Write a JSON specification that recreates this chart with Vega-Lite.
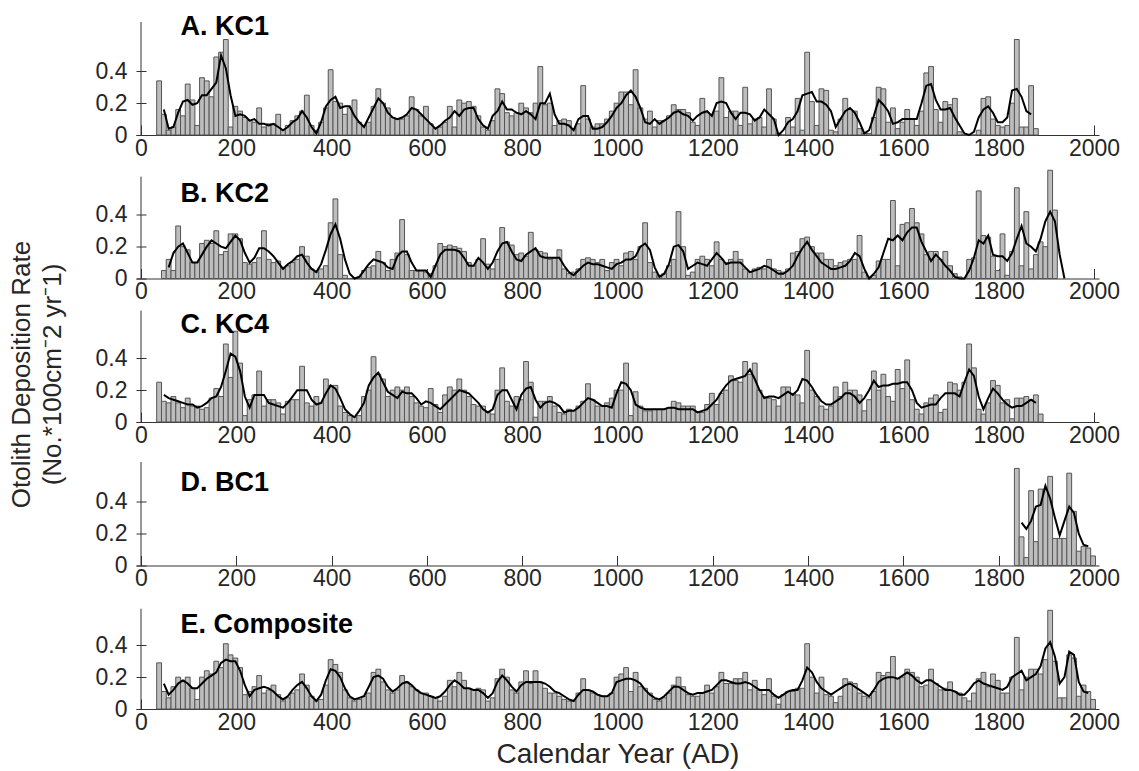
{
"$schema":"https://vega.github.io/schema/vega-lite/v6.json",
"background":"white",
"padding":{"left":8,"top":12,"right":5,"bottom":5},
"spacing":30.5,
"bounds":"flush",
"config":{
"view":{"stroke":null},
"font":"Liberation Sans",
"axis":{"grid":false,"domainColor":"#333333","tickColor":"#333333","tickSize":-10,"labelFont":"Liberation Sans","labelFontSize":23,"labelColor":"#262626","labelFlush":false,"labelOverlap":false,"titleFont":"Liberation Sans","titleFontWeight":"normal","titleColor":"#262626"},
"axisX":{"labelPadding":12},
"axisY":{"labelPadding":19,"domain":false}
},
"datasets":{
"A":[{"t":38,"v":0.34},{"t":48,"v":0.13,"s":0.16},{"t":58,"v":0.03,"s":0.04},{"t":68,"v":0.05,"s":0.05},{"t":78,"v":0.16,"s":0.14},{"t":88,"v":0.12,"s":0.21},{"t":98,"v":0.32,"s":0.22},{"t":108,"v":0.22,"s":0.19},{"t":118,"v":0.06,"s":0.2},{"t":128,"v":0.36,"s":0.25},{"t":138,"v":0.34,"s":0.25},{"t":148,"v":0.24,"s":0.29},{"t":158,"v":0.49,"s":0.33},{"t":168,"v":0.52,"s":0.5},{"t":178,"v":0.6,"s":0.42},{"t":188,"v":0.05,"s":0.25},{"t":198,"v":0.18,"s":0.12},{"t":208,"v":0.15,"s":0.13},{"t":218,"v":0.11,"s":0.12},{"t":228,"v":0.09,"s":0.09},{"t":238,"v":0.08,"s":0.1},{"t":248,"v":0.17,"s":0.07},{"t":258,"v":0.05,"s":0.07},{"t":268,"v":0.07,"s":0.06},{"t":278,"v":0.07,"s":0.07},{"t":288,"v":0.13,"s":0.05},{"t":298,"v":0.03,"s":0.03},{"t":308,"v":0.06,"s":0.05},{"t":318,"v":0.09,"s":0.08},{"t":328,"v":0.12,"s":0.1},{"t":338,"v":0.15,"s":0.15},{"t":348,"v":0.25,"s":0.11},{"t":358,"v":0.06,"s":0.05},{"t":368,"v":0.03,"s":0.01},{"t":378,"v":0.08,"s":0.08},{"t":388,"v":0.17,"s":0.18},{"t":398,"v":0.41,"s":0.22},{"t":408,"v":0.21,"s":0.24},{"t":418,"v":0.2,"s":0.17},{"t":428,"v":0.13,"s":0.18},{"t":438,"v":0.17,"s":0.18},{"t":448,"v":0.22,"s":0.12},{"t":458,"v":0.08,"s":0.08},{"t":468,"v":0.06,"s":0.05},{"t":478,"v":0.08,"s":0.11},{"t":488,"v":0.18,"s":0.17},{"t":498,"v":0.29,"s":0.23},{"t":508,"v":0.2,"s":0.2},{"t":518,"v":0.17,"s":0.14},{"t":528,"v":0.11,"s":0.11},{"t":538,"v":0.1,"s":0.1},{"t":548,"v":0.1,"s":0.11},{"t":558,"v":0.12,"s":0.13},{"t":568,"v":0.24,"s":0.17},{"t":578,"v":0.16,"s":0.16},{"t":588,"v":0.12,"s":0.13},{"t":598,"v":0.18,"s":0.1},{"t":608,"v":0.07,"s":0.07},{"t":618,"v":0.04,"s":0.04},{"t":628,"v":0.05,"s":0.06},{"t":638,"v":0.08,"s":0.09},{"t":648,"v":0.18,"s":0.11},{"t":658,"v":0.05,"s":0.15},{"t":668,"v":0.22,"s":0.12},{"t":678,"v":0.2,"s":0.16},{"t":688,"v":0.21,"s":0.17},{"t":698,"v":0.18,"s":0.17},{"t":708,"v":0.12,"s":0.1},{"t":718,"v":0.05,"s":0.06},{"t":728,"v":0.03,"s":0.04},{"t":738,"v":0.09,"s":0.12},{"t":748,"v":0.29,"s":0.15},{"t":758,"v":0.26,"s":0.21},{"t":768,"v":0.14,"s":0.16},{"t":778,"v":0.12,"s":0.16},{"t":788,"v":0.14,"s":0.14},{"t":798,"v":0.2,"s":0.13},{"t":808,"v":0.17,"s":0.15},{"t":818,"v":0.14,"s":0.13},{"t":828,"v":0.2,"s":0.1},{"t":838,"v":0.43,"s":0.2},{"t":848,"v":0.19,"s":0.2},{"t":858,"v":0.2,"s":0.26},{"t":868,"v":0.06,"s":0.13},{"t":878,"v":0.09,"s":0.07},{"t":888,"v":0.1,"s":0.07},{"t":898,"v":0.09,"s":0.06},{"t":908,"v":0.04,"s":0.03},{"t":918,"v":0.07,"s":0.1},{"t":928,"v":0.31,"s":0.12},{"t":938,"v":0.1,"s":0.12},{"t":948,"v":0.05,"s":0.04},{"t":958,"v":0.07,"s":0.04},{"t":968,"v":0.07,"s":0.05},{"t":978,"v":0.1,"s":0.08},{"t":988,"v":0.15,"s":0.12},{"t":998,"v":0.2,"s":0.17},{"t":1008,"v":0.27,"s":0.2},{"t":1018,"v":0.27,"s":0.25},{"t":1028,"v":0.19,"s":0.28},{"t":1038,"v":0.41,"s":0.24},{"t":1048,"v":0.17,"s":0.17},{"t":1058,"v":0.1,"s":0.08},{"t":1068,"v":0.15,"s":0.07},{"t":1078,"v":0.05,"s":0.1},{"t":1088,"v":0.09,"s":0.07},{"t":1098,"v":0.09,"s":0.09},{"t":1108,"v":0.12,"s":0.11},{"t":1118,"v":0.19,"s":0.14},{"t":1128,"v":0.16,"s":0.15},{"t":1138,"v":0.16,"s":0.13},{"t":1148,"v":0.14,"s":0.12},{"t":1158,"v":0.08,"s":0.09},{"t":1168,"v":0.06,"s":0.12},{"t":1178,"v":0.23,"s":0.14},{"t":1188,"v":0.14,"s":0.15},{"t":1198,"v":0.13,"s":0.12},{"t":1208,"v":0.15,"s":0.2},{"t":1218,"v":0.36,"s":0.21},{"t":1228,"v":0.11,"s":0.2},{"t":1238,"v":0.15,"s":0.14},{"t":1248,"v":0.15,"s":0.1},{"t":1258,"v":0.06,"s":0.14},{"t":1268,"v":0.3,"s":0.14},{"t":1278,"v":0.07,"s":0.13},{"t":1288,"v":0.1,"s":0.09},{"t":1298,"v":0.11,"s":0.11},{"t":1308,"v":0.05,"s":0.16},{"t":1318,"v":0.29,"s":0.13},{"t":1328,"v":0.1,"s":0.1},{"t":1338,"v":0.01,"s":0},{"t":1348,"v":0,"s":0.03},{"t":1358,"v":0.11,"s":0.08},{"t":1368,"v":0.05,"s":0.1},{"t":1378,"v":0.23,"s":0.15},{"t":1388,"v":0.03,"s":0.25},{"t":1398,"v":0.52,"s":0.26},{"t":1408,"v":0.21,"s":0.27},{"t":1418,"v":0.06,"s":0.21},{"t":1428,"v":0.29,"s":0.21},{"t":1438,"v":0.28,"s":0.19},{"t":1448,"v":0.03,"s":0.15},{"t":1458,"v":0.02,"s":0.05},{"t":1468,"v":0.1,"s":0.1},{"t":1478,"v":0.23,"s":0.15},{"t":1488,"v":0.16,"s":0.17},{"t":1498,"v":0.15,"s":0.14},{"t":1508,"v":0.04,"s":0.08},{"t":1518,"v":0.01,"s":0.01},{"t":1528,"v":0.01,"s":0.03},{"t":1538,"v":0.11,"s":0.12},{"t":1548,"v":0.3,"s":0.22},{"t":1558,"v":0.29,"s":0.19},{"t":1568,"v":0.08,"s":0.15},{"t":1578,"v":0.17,"s":0.07},{"t":1588,"v":0.04,"s":0.08},{"t":1598,"v":0.08,"s":0.1},{"t":1608,"v":0.16,"s":0.1},{"t":1618,"v":0.1,"s":0.1},{"t":1628,"v":0.06,"s":0.1},{"t":1638,"v":0.15,"s":0.2},{"t":1648,"v":0.39,"s":0.31},{"t":1658,"v":0.43,"s":0.32},{"t":1668,"v":0.16,"s":0.22},{"t":1678,"v":0.08,"s":0.16},{"t":1688,"v":0.21,"s":0.16},{"t":1698,"v":0.19,"s":0.17},{"t":1708,"v":0.23,"s":0.11},{"t":1718,"v":0.02,"s":0.06},{"t":1728,"v":0,"s":0.01},{"t":1738,"v":0,"s":0},{"t":1748,"v":0,"s":0.02},{"t":1758,"v":0.03,"s":0.11},{"t":1768,"v":0.23,"s":0.16},{"t":1778,"v":0.24,"s":0.18},{"t":1788,"v":0.1,"s":0.14},{"t":1798,"v":0.06,"s":0.08},{"t":1808,"v":0.05,"s":0.08},{"t":1818,"v":0.06,"s":0.11},{"t":1828,"v":0.2,"s":0.28},{"t":1838,"v":0.6,"s":0.29},{"t":1848,"v":0.05,"s":0.24},{"t":1858,"v":0.05,"s":0.15},{"t":1868,"v":0.31,"s":0.13},{"t":1878,"v":0.04}],
"B":[{"t":48,"v":0.05},{"t":58,"v":0.12,"s":0.07},{"t":68,"v":0.05,"s":0.16},{"t":78,"v":0.33,"s":0.2},{"t":88,"v":0.2,"s":0.22},{"t":98,"v":0.18,"s":0.16},{"t":108,"v":0.1,"s":0.1},{"t":118,"v":0.1,"s":0.1},{"t":128,"v":0.22,"s":0.15},{"t":138,"v":0.24,"s":0.2},{"t":148,"v":0.22,"s":0.24},{"t":158,"v":0.3,"s":0.22},{"t":168,"v":0.15,"s":0.2},{"t":178,"v":0.17,"s":0.19},{"t":188,"v":0.28,"s":0.23},{"t":198,"v":0.28,"s":0.27},{"t":208,"v":0.25,"s":0.24},{"t":218,"v":0.1,"s":0.16},{"t":228,"v":0.09,"s":0.1},{"t":238,"v":0.1,"s":0.13},{"t":248,"v":0.13,"s":0.19},{"t":258,"v":0.3,"s":0.19},{"t":268,"v":0.12,"s":0.17},{"t":278,"v":0.1,"s":0.14},{"t":288,"v":0.11,"s":0.1},{"t":298,"v":0.07,"s":0.06},{"t":308,"v":0.08,"s":0.09},{"t":318,"v":0.1,"s":0.11},{"t":328,"v":0.12,"s":0.14},{"t":338,"v":0.2,"s":0.15},{"t":348,"v":0.14,"s":0.1},{"t":358,"v":0.06,"s":0.06},{"t":368,"v":0.04,"s":0.04},{"t":378,"v":0.06,"s":0.09},{"t":388,"v":0.08,"s":0.18},{"t":398,"v":0.35,"s":0.28},{"t":408,"v":0.5,"s":0.34},{"t":418,"v":0.15,"s":0.25},{"t":428,"v":0.02,"s":0.12},{"t":438,"v":0,"s":0.03},{"t":448,"v":0,"s":0},{"t":458,"v":0.01,"s":0.01},{"t":468,"v":0.05,"s":0.05},{"t":478,"v":0.07,"s":0.09},{"t":488,"v":0.08,"s":0.12},{"t":498,"v":0.17,"s":0.11},{"t":508,"v":0.1,"s":0.1},{"t":518,"v":0.05,"s":0.07},{"t":528,"v":0.12,"s":0.06},{"t":538,"v":0.16,"s":0.14},{"t":548,"v":0.37,"s":0.17},{"t":558,"v":0.15,"s":0.17},{"t":568,"v":0.05,"s":0.1},{"t":578,"v":0.05,"s":0.05},{"t":588,"v":0.05,"s":0.05},{"t":598,"v":0.04,"s":0.05},{"t":608,"v":0.03,"s":0.01},{"t":618,"v":0.08,"s":0.08},{"t":628,"v":0.22,"s":0.15},{"t":638,"v":0.2,"s":0.18},{"t":648,"v":0.21,"s":0.18},{"t":658,"v":0.2,"s":0.18},{"t":668,"v":0.19,"s":0.17},{"t":678,"v":0.17,"s":0.13},{"t":688,"v":0.1,"s":0.08},{"t":698,"v":0.08,"s":0.08},{"t":708,"v":0.12,"s":0.13},{"t":718,"v":0.25,"s":0.1},{"t":728,"v":0.09,"s":0.06},{"t":738,"v":0.06,"s":0.1},{"t":748,"v":0.12,"s":0.17},{"t":758,"v":0.32,"s":0.22},{"t":768,"v":0.23,"s":0.23},{"t":778,"v":0.21,"s":0.17},{"t":788,"v":0.15,"s":0.12},{"t":798,"v":0.16,"s":0.11},{"t":808,"v":0.14,"s":0.15},{"t":818,"v":0.29,"s":0.17},{"t":828,"v":0.18,"s":0.19},{"t":838,"v":0.17,"s":0.14},{"t":848,"v":0.16,"s":0.13},{"t":858,"v":0.12,"s":0.13},{"t":868,"v":0.13,"s":0.13},{"t":878,"v":0.18,"s":0.13},{"t":888,"v":0.06,"s":0.08},{"t":898,"v":0.03,"s":0.04},{"t":908,"v":0.04,"s":0.02},{"t":918,"v":0.06,"s":0.05},{"t":928,"v":0.12,"s":0.08},{"t":938,"v":0.13,"s":0.1},{"t":948,"v":0.12,"s":0.09},{"t":958,"v":0.1,"s":0.09},{"t":968,"v":0.12,"s":0.08},{"t":978,"v":0.05,"s":0.07},{"t":988,"v":0.1,"s":0.06},{"t":998,"v":0.12,"s":0.09},{"t":1008,"v":0.08,"s":0.1},{"t":1018,"v":0.16,"s":0.12},{"t":1028,"v":0.17,"s":0.12},{"t":1038,"v":0.12,"s":0.14},{"t":1048,"v":0.2,"s":0.2},{"t":1058,"v":0.35,"s":0.22},{"t":1068,"v":0.1,"s":0.18},{"t":1078,"v":0.04,"s":0.07},{"t":1088,"v":0.02,"s":0.01},{"t":1098,"v":0.03,"s":0.03},{"t":1108,"v":0.08,"s":0.09},{"t":1118,"v":0.12,"s":0.2},{"t":1128,"v":0.42,"s":0.21},{"t":1138,"v":0.2,"s":0.17},{"t":1148,"v":0.02,"s":0.06},{"t":1158,"v":0.04,"s":0.08},{"t":1168,"v":0.12,"s":0.1},{"t":1178,"v":0.14,"s":0.09},{"t":1188,"v":0.12,"s":0.08},{"t":1198,"v":0.08,"s":0.12},{"t":1208,"v":0.23,"s":0.16},{"t":1218,"v":0.12,"s":0.13},{"t":1228,"v":0.1,"s":0.09},{"t":1238,"v":0.12,"s":0.1},{"t":1248,"v":0.17,"s":0.1},{"t":1258,"v":0.12,"s":0.1},{"t":1268,"v":0.06,"s":0.07},{"t":1278,"v":0.04,"s":0.04},{"t":1288,"v":0.06,"s":0.05},{"t":1298,"v":0.07,"s":0.06},{"t":1308,"v":0.06,"s":0.08},{"t":1318,"v":0.12,"s":0.07},{"t":1328,"v":0.06,"s":0.05},{"t":1338,"v":0.05,"s":0.03},{"t":1348,"v":0.04,"s":0.03},{"t":1358,"v":0.06,"s":0.05},{"t":1368,"v":0.16,"s":0.08},{"t":1378,"v":0.17,"s":0.14},{"t":1388,"v":0.25,"s":0.19},{"t":1398,"v":0.26,"s":0.23},{"t":1408,"v":0.2,"s":0.18},{"t":1418,"v":0.16,"s":0.14},{"t":1428,"v":0.16,"s":0.1},{"t":1438,"v":0.12,"s":0.08},{"t":1448,"v":0.12,"s":0.06},{"t":1458,"v":0.08,"s":0.06},{"t":1468,"v":0.1,"s":0.07},{"t":1478,"v":0.11,"s":0.08},{"t":1488,"v":0.12,"s":0.11},{"t":1498,"v":0.12,"s":0.16},{"t":1508,"v":0.27,"s":0.14},{"t":1518,"v":0.04,"s":0.06},{"t":1528,"v":0,"s":0},{"t":1538,"v":0.02,"s":0.03},{"t":1548,"v":0.11,"s":0.07},{"t":1558,"v":0.12,"s":0.16},{"t":1568,"v":0.12,"s":0.25},{"t":1578,"v":0.49,"s":0.24},{"t":1588,"v":0.08,"s":0.27},{"t":1598,"v":0.34,"s":0.24},{"t":1608,"v":0.35,"s":0.29},{"t":1618,"v":0.44,"s":0.32},{"t":1628,"v":0.35,"s":0.32},{"t":1638,"v":0.28,"s":0.23},{"t":1648,"v":0.15,"s":0.17},{"t":1658,"v":0.17,"s":0.11},{"t":1668,"v":0.17,"s":0.15},{"t":1678,"v":0.12,"s":0.12},{"t":1688,"v":0.17,"s":0.08},{"t":1698,"v":0.08,"s":0.05},{"t":1708,"v":0.03,"s":0.01},{"t":1718,"v":0.01,"s":0},{"t":1728,"v":0,"s":0},{"t":1738,"v":0.12,"s":0.05},{"t":1748,"v":0.13,"s":0.13},{"t":1758,"v":0.55,"s":0.24},{"t":1768,"v":0.27,"s":0.22},{"t":1778,"v":0.26,"s":0.27},{"t":1788,"v":0.14,"s":0.15},{"t":1798,"v":0.05,"s":0.14},{"t":1808,"v":0.28,"s":0.14},{"t":1818,"v":0.02,"s":0.11},{"t":1828,"v":0.17,"s":0.16},{"t":1838,"v":0.57,"s":0.25},{"t":1848,"v":0.08,"s":0.33},{"t":1858,"v":0.42,"s":0.22},{"t":1868,"v":0.06,"s":0.2},{"t":1878,"v":0.15,"s":0.17},{"t":1888,"v":0.23,"s":0.25},{"t":1898,"v":0.2,"s":0.36},{"t":1908,"v":0.68,"s":0.42},{"t":1918,"v":0.43,"s":0.36},{"t":1928,"s":0.15},{"t":1938,"s":0}],
"C":[{"t":38,"v":0.25},{"t":48,"v":0.13,"s":0.17},{"t":58,"v":0.12,"s":0.15},{"t":68,"v":0.16,"s":0.14},{"t":78,"v":0.12,"s":0.13},{"t":88,"v":0.09,"s":0.12},{"t":98,"v":0.15,"s":0.11},{"t":108,"v":0.1,"s":0.11},{"t":118,"v":0.1,"s":0.09},{"t":128,"v":0.08,"s":0.1},{"t":138,"v":0.09,"s":0.12},{"t":148,"v":0.15,"s":0.15},{"t":158,"v":0.21,"s":0.16},{"t":168,"v":0.16,"s":0.22},{"t":178,"v":0.49,"s":0.32},{"t":188,"v":0.28,"s":0.43},{"t":198,"v":0.57,"s":0.41},{"t":208,"v":0.37,"s":0.32},{"t":218,"v":0.04,"s":0.16},{"t":228,"v":0.14,"s":0.09},{"t":238,"v":0.17,"s":0.17},{"t":248,"v":0.32,"s":0.17},{"t":258,"v":0.1,"s":0.17},{"t":268,"v":0.14,"s":0.12},{"t":278,"v":0.14,"s":0.11},{"t":288,"v":0.12,"s":0.1},{"t":298,"v":0.05,"s":0.09},{"t":308,"v":0.13,"s":0.12},{"t":318,"v":0.14,"s":0.16},{"t":328,"v":0.14,"s":0.2},{"t":338,"v":0.35,"s":0.2},{"t":348,"v":0.12,"s":0.2},{"t":358,"v":0.1,"s":0.14},{"t":368,"v":0.16,"s":0.11},{"t":378,"v":0.12,"s":0.12},{"t":388,"v":0.27,"s":0.18},{"t":398,"v":0.23,"s":0.23},{"t":408,"v":0.23,"s":0.21},{"t":418,"v":0.1,"s":0.15},{"t":428,"v":0.06,"s":0.08},{"t":438,"v":0.04,"s":0.05},{"t":448,"v":0.03,"s":0.03},{"t":458,"v":0.04,"s":0.07},{"t":468,"v":0.16,"s":0.12},{"t":478,"v":0.2,"s":0.23},{"t":488,"v":0.41,"s":0.28},{"t":498,"v":0.3,"s":0.31},{"t":508,"v":0.27,"s":0.25},{"t":518,"v":0.16,"s":0.19},{"t":528,"v":0.2,"s":0.17},{"t":538,"v":0.22,"s":0.15},{"t":548,"v":0.2,"s":0.19},{"t":558,"v":0.22,"s":0.18},{"t":568,"v":0.16,"s":0.18},{"t":578,"v":0.12,"s":0.15},{"t":588,"v":0.1,"s":0.11},{"t":598,"v":0.09,"s":0.13},{"t":608,"v":0.21,"s":0.12},{"t":618,"v":0.11,"s":0.1},{"t":628,"v":0.06,"s":0.08},{"t":638,"v":0.17,"s":0.11},{"t":648,"v":0.22,"s":0.14},{"t":658,"v":0.2,"s":0.17},{"t":668,"v":0.27,"s":0.2},{"t":678,"v":0.2,"s":0.19},{"t":688,"v":0.16,"s":0.18},{"t":698,"v":0.11,"s":0.15},{"t":708,"v":0.1,"s":0.12},{"t":718,"v":0.1,"s":0.08},{"t":728,"v":0.06,"s":0.06},{"t":738,"v":0.05,"s":0.08},{"t":748,"v":0.2,"s":0.17},{"t":758,"v":0.34,"s":0.2},{"t":768,"v":0.13,"s":0.2},{"t":778,"v":0.1,"s":0.14},{"t":788,"v":0.16,"s":0.08},{"t":798,"v":0.14,"s":0.17},{"t":808,"v":0.38,"s":0.21},{"t":818,"v":0.25,"s":0.22},{"t":828,"v":0.03,"s":0.14},{"t":838,"v":0.13,"s":0.09},{"t":848,"v":0.13,"s":0.12},{"t":858,"v":0.16,"s":0.13},{"t":868,"v":0.1,"s":0.12},{"t":878,"v":0.06,"s":0.1},{"t":888,"v":0.05,"s":0.06},{"t":898,"v":0.08,"s":0.07},{"t":908,"v":0.07,"s":0.07},{"t":918,"v":0.1,"s":0.09},{"t":928,"v":0.13,"s":0.12},{"t":938,"v":0.24,"s":0.15},{"t":948,"v":0.14,"s":0.14},{"t":958,"v":0.1,"s":0.12},{"t":968,"v":0.1,"s":0.1},{"t":978,"v":0.12,"s":0.1},{"t":988,"v":0.15,"s":0.09},{"t":998,"v":0.2,"s":0.18},{"t":1008,"v":0.2,"s":0.25},{"t":1018,"v":0.37,"s":0.24},{"t":1028,"v":0.04,"s":0.2},{"t":1038,"v":0.19,"s":0.11},{"t":1048,"v":0.1,"s":0.09},{"t":1058,"v":0.07,"s":0.08},{"t":1068,"v":0.07,"s":0.08},{"t":1078,"v":0.08,"s":0.08},{"t":1088,"v":0.08,"s":0.08},{"t":1098,"v":0.08,"s":0.08},{"t":1108,"v":0.09,"s":0.09},{"t":1118,"v":0.13,"s":0.09},{"t":1128,"v":0.12,"s":0.08},{"t":1138,"v":0.1,"s":0.08},{"t":1148,"v":0.1,"s":0.08},{"t":1158,"v":0.1,"s":0.08},{"t":1168,"v":0.06,"s":0.06},{"t":1178,"v":0.06,"s":0.07},{"t":1188,"v":0.11,"s":0.08},{"t":1198,"v":0.18,"s":0.11},{"t":1208,"v":0.11,"s":0.14},{"t":1218,"v":0.18,"s":0.19},{"t":1228,"v":0.2,"s":0.23},{"t":1238,"v":0.29,"s":0.26},{"t":1248,"v":0.26,"s":0.27},{"t":1258,"v":0.25,"s":0.28},{"t":1268,"v":0.38,"s":0.29},{"t":1278,"v":0.3,"s":0.33},{"t":1288,"v":0.37,"s":0.27},{"t":1298,"v":0.2,"s":0.2},{"t":1308,"v":0.16,"s":0.15},{"t":1318,"v":0.15,"s":0.16},{"t":1328,"v":0.14,"s":0.16},{"t":1338,"v":0.1,"s":0.15},{"t":1348,"v":0.22,"s":0.17},{"t":1358,"v":0.22,"s":0.19},{"t":1368,"v":0.18,"s":0.17},{"t":1378,"v":0.17,"s":0.2},{"t":1388,"v":0.12,"s":0.27},{"t":1398,"v":0.45,"s":0.26},{"t":1408,"v":0.2,"s":0.22},{"t":1418,"v":0.16,"s":0.17},{"t":1428,"v":0.1,"s":0.13},{"t":1438,"v":0.08,"s":0.11},{"t":1448,"v":0.1,"s":0.11},{"t":1458,"v":0.22,"s":0.13},{"t":1468,"v":0.16,"s":0.15},{"t":1478,"v":0.25,"s":0.18},{"t":1488,"v":0.2,"s":0.18},{"t":1498,"v":0.2,"s":0.16},{"t":1508,"v":0.17,"s":0.12},{"t":1518,"v":0.07,"s":0.15},{"t":1528,"v":0.14,"s":0.2},{"t":1538,"v":0.32,"s":0.26},{"t":1548,"v":0.2,"s":0.22},{"t":1558,"v":0.3,"s":0.23},{"t":1568,"v":0.16,"s":0.23},{"t":1578,"v":0.13,"s":0.24},{"t":1588,"v":0.33,"s":0.24},{"t":1598,"v":0.21,"s":0.25},{"t":1608,"v":0.39,"s":0.25},{"t":1618,"v":0.14,"s":0.2},{"t":1628,"v":0.08,"s":0.12},{"t":1638,"v":0.05,"s":0.09},{"t":1648,"v":0.12,"s":0.1},{"t":1658,"v":0.15,"s":0.11},{"t":1668,"v":0.17,"s":0.11},{"t":1678,"v":0.06,"s":0.15},{"t":1688,"v":0.08,"s":0.18},{"t":1698,"v":0.25,"s":0.18},{"t":1708,"v":0.24,"s":0.18},{"t":1718,"v":0.2,"s":0.16},{"t":1728,"v":0.25,"s":0.25},{"t":1738,"v":0.49,"s":0.33},{"t":1748,"v":0.34,"s":0.29},{"t":1758,"v":0.08,"s":0.16},{"t":1768,"v":0.05,"s":0.08},{"t":1778,"v":0.12,"s":0.15},{"t":1788,"v":0.26,"s":0.21},{"t":1798,"v":0.23,"s":0.18},{"t":1808,"v":0.12,"s":0.14},{"t":1818,"v":0.14,"s":0.11},{"t":1828,"v":0.02,"s":0.09},{"t":1838,"v":0.15,"s":0.1},{"t":1848,"v":0.15,"s":0.1},{"t":1858,"v":0.16,"s":0.12},{"t":1868,"v":0.14,"s":0.14},{"t":1878,"v":0.17,"s":0.12},{"t":1888,"v":0.05}],
"D":[{"t":1838,"v":0.61},{"t":1848,"v":0.18,"s":0.27},{"t":1858,"v":0.05,"s":0.23},{"t":1868,"v":0.47,"s":0.28},{"t":1878,"v":0.15,"s":0.37},{"t":1888,"v":0.48,"s":0.38},{"t":1898,"v":0.48,"s":0.5},{"t":1908,"v":0.56,"s":0.42},{"t":1918,"v":0.17,"s":0.3},{"t":1928,"v":0.17,"s":0.19},{"t":1938,"v":0.17,"s":0.28},{"t":1948,"v":0.58,"s":0.37},{"t":1958,"v":0.34,"s":0.33},{"t":1968,"v":0.09,"s":0.2},{"t":1978,"v":0.12,"s":0.13},{"t":1988,"v":0.11,"s":0.12},{"t":1998,"v":0.06}],
"E":[{"t":38,"v":0.29},{"t":48,"v":0.11,"s":0.16},{"t":58,"v":0.07,"s":0.09},{"t":68,"v":0.14,"s":0.12},{"t":78,"v":0.2,"s":0.16},{"t":88,"v":0.18,"s":0.18},{"t":98,"v":0.2,"s":0.16},{"t":108,"v":0.13,"s":0.13},{"t":118,"v":0.06,"s":0.13},{"t":128,"v":0.2,"s":0.16},{"t":138,"v":0.24,"s":0.19},{"t":148,"v":0.22,"s":0.21},{"t":158,"v":0.3,"s":0.23},{"t":168,"v":0.26,"s":0.29},{"t":178,"v":0.41,"s":0.31},{"t":188,"v":0.34,"s":0.3},{"t":198,"v":0.32,"s":0.3},{"t":208,"v":0.26,"s":0.24},{"t":218,"v":0.09,"s":0.15},{"t":228,"v":0.11,"s":0.08},{"t":238,"v":0.14,"s":0.12},{"t":248,"v":0.21,"s":0.13},{"t":258,"v":0.1,"s":0.14},{"t":268,"v":0.12,"s":0.13},{"t":278,"v":0.15,"s":0.11},{"t":288,"v":0.09,"s":0.08},{"t":298,"v":0.05,"s":0.06},{"t":308,"v":0.07,"s":0.08},{"t":318,"v":0.1,"s":0.12},{"t":328,"v":0.12,"s":0.15},{"t":338,"v":0.22,"s":0.17},{"t":348,"v":0.15,"s":0.13},{"t":358,"v":0.08,"s":0.08},{"t":368,"v":0.05,"s":0.05},{"t":378,"v":0.06,"s":0.09},{"t":388,"v":0.15,"s":0.18},{"t":398,"v":0.31,"s":0.25},{"t":408,"v":0.28,"s":0.24},{"t":418,"v":0.23,"s":0.2},{"t":428,"v":0.12,"s":0.13},{"t":438,"v":0.07,"s":0.08},{"t":448,"v":0.05,"s":0.06},{"t":458,"v":0.06,"s":0.07},{"t":468,"v":0.08,"s":0.08},{"t":478,"v":0.1,"s":0.14},{"t":488,"v":0.23,"s":0.2},{"t":498,"v":0.25,"s":0.21},{"t":508,"v":0.17,"s":0.19},{"t":518,"v":0.12,"s":0.14},{"t":528,"v":0.1,"s":0.11},{"t":538,"v":0.12,"s":0.13},{"t":548,"v":0.21,"s":0.16},{"t":558,"v":0.17,"s":0.17},{"t":568,"v":0.14,"s":0.15},{"t":578,"v":0.12,"s":0.12},{"t":588,"v":0.1,"s":0.1},{"t":598,"v":0.1,"s":0.09},{"t":608,"v":0.08,"s":0.08},{"t":618,"v":0.07,"s":0.07},{"t":628,"v":0.05,"s":0.08},{"t":638,"v":0.08,"s":0.11},{"t":648,"v":0.18,"s":0.15},{"t":658,"v":0.14,"s":0.18},{"t":668,"v":0.23,"s":0.16},{"t":678,"v":0.18,"s":0.13},{"t":688,"v":0.13,"s":0.13},{"t":698,"v":0.12,"s":0.12},{"t":708,"v":0.13,"s":0.12},{"t":718,"v":0.12,"s":0.1},{"t":728,"v":0.05,"s":0.07},{"t":738,"v":0.07,"s":0.1},{"t":748,"v":0.19,"s":0.17},{"t":758,"v":0.25,"s":0.21},{"t":768,"v":0.2,"s":0.18},{"t":778,"v":0.12,"s":0.14},{"t":788,"v":0.1,"s":0.11},{"t":798,"v":0.17,"s":0.15},{"t":808,"v":0.24,"s":0.17},{"t":818,"v":0.16,"s":0.17},{"t":828,"v":0.24,"s":0.17},{"t":838,"v":0.17,"s":0.17},{"t":848,"v":0.13,"s":0.16},{"t":858,"v":0.1,"s":0.14},{"t":868,"v":0.1,"s":0.11},{"t":878,"v":0.08,"s":0.1},{"t":888,"v":0.06,"s":0.08},{"t":898,"v":0.05,"s":0.06},{"t":908,"v":0.05,"s":0.05},{"t":918,"v":0.1,"s":0.09},{"t":928,"v":0.19,"s":0.12},{"t":938,"v":0.12,"s":0.12},{"t":948,"v":0.1,"s":0.11},{"t":958,"v":0.09,"s":0.09},{"t":968,"v":0.08,"s":0.08},{"t":978,"v":0.08,"s":0.08},{"t":988,"v":0.1,"s":0.1},{"t":998,"v":0.2,"s":0.17},{"t":1008,"v":0.22,"s":0.18},{"t":1018,"v":0.26,"s":0.19},{"t":1028,"v":0.11,"s":0.19},{"t":1038,"v":0.23,"s":0.18},{"t":1048,"v":0.14,"s":0.16},{"t":1058,"v":0.13,"s":0.12},{"t":1068,"v":0.1,"s":0.09},{"t":1078,"v":0.06,"s":0.07},{"t":1088,"v":0.05,"s":0.06},{"t":1098,"v":0.07,"s":0.08},{"t":1108,"v":0.1,"s":0.11},{"t":1118,"v":0.15,"s":0.14},{"t":1128,"v":0.2,"s":0.14},{"t":1138,"v":0.14,"s":0.12},{"t":1148,"v":0.09,"s":0.1},{"t":1158,"v":0.08,"s":0.09},{"t":1168,"v":0.08,"s":0.1},{"t":1178,"v":0.1,"s":0.1},{"t":1188,"v":0.15,"s":0.11},{"t":1198,"v":0.1,"s":0.12},{"t":1208,"v":0.14,"s":0.15},{"t":1218,"v":0.23,"s":0.18},{"t":1228,"v":0.16,"s":0.18},{"t":1238,"v":0.16,"s":0.17},{"t":1248,"v":0.19,"s":0.16},{"t":1258,"v":0.19,"s":0.16},{"t":1268,"v":0.23,"s":0.17},{"t":1278,"v":0.12,"s":0.16},{"t":1288,"v":0.18,"s":0.14},{"t":1298,"v":0.12,"s":0.12},{"t":1308,"v":0.09,"s":0.12},{"t":1318,"v":0.19,"s":0.12},{"t":1328,"v":0.08,"s":0.09},{"t":1338,"v":0.03,"s":0.07},{"t":1348,"v":0.09,"s":0.09},{"t":1358,"v":0.11,"s":0.11},{"t":1368,"v":0.11,"s":0.12},{"t":1378,"v":0.13,"s":0.12},{"t":1388,"v":0.13,"s":0.18},{"t":1398,"v":0.41,"s":0.26},{"t":1408,"v":0.2,"s":0.23},{"t":1418,"v":0.1,"s":0.17},{"t":1428,"v":0.2,"s":0.13},{"t":1438,"v":0.09,"s":0.11},{"t":1448,"v":0.08,"s":0.09},{"t":1458,"v":0.04,"s":0.11},{"t":1468,"v":0.08,"s":0.13},{"t":1478,"v":0.19,"s":0.15},{"t":1488,"v":0.17,"s":0.16},{"t":1498,"v":0.16,"s":0.14},{"t":1508,"v":0.1,"s":0.12},{"t":1518,"v":0.08,"s":0.1},{"t":1528,"v":0.07,"s":0.08},{"t":1538,"v":0.11,"s":0.12},{"t":1548,"v":0.23,"s":0.17},{"t":1558,"v":0.21,"s":0.19},{"t":1568,"v":0.23,"s":0.2},{"t":1578,"v":0.33,"s":0.2},{"t":1588,"v":0.19,"s":0.19},{"t":1598,"v":0.2,"s":0.21},{"t":1608,"v":0.25,"s":0.23},{"t":1618,"v":0.23,"s":0.21},{"t":1628,"v":0.2,"s":0.18},{"t":1638,"v":0.14,"s":0.16},{"t":1648,"v":0.15,"s":0.18},{"t":1658,"v":0.25,"s":0.18},{"t":1668,"v":0.16,"s":0.16},{"t":1678,"v":0.12,"s":0.14},{"t":1688,"v":0.13,"s":0.12},{"t":1698,"v":0.17,"s":0.12},{"t":1708,"v":0.11,"s":0.11},{"t":1718,"v":0.1,"s":0.09},{"t":1728,"v":0.07,"s":0.09},{"t":1738,"v":0.05,"s":0.12},{"t":1748,"v":0.1,"s":0.16},{"t":1758,"v":0.19,"s":0.18},{"t":1768,"v":0.23,"s":0.16},{"t":1778,"v":0.14,"s":0.15},{"t":1788,"v":0.22,"s":0.14},{"t":1798,"v":0.18,"s":0.13},{"t":1808,"v":0.1,"s":0.12},{"t":1818,"v":0.1,"s":0.14},{"t":1828,"v":0.2,"s":0.2},{"t":1838,"v":0.45,"s":0.22},{"t":1848,"v":0.12,"s":0.24},{"t":1858,"v":0.2,"s":0.18},{"t":1868,"v":0.25,"s":0.2},{"t":1878,"v":0.25,"s":0.22},{"t":1888,"v":0.22,"s":0.27},{"t":1898,"v":0.31,"s":0.38},{"t":1908,"v":0.62,"s":0.42},{"t":1918,"v":0.3,"s":0.33},{"t":1928,"v":0.07,"s":0.16},{"t":1938,"v":0.07,"s":0.2},{"t":1948,"v":0.34,"s":0.36},{"t":1958,"v":0.32,"s":0.34},{"t":1968,"v":0.08,"s":0.17},{"t":1978,"v":0.15,"s":0.11},{"t":1988,"v":0.11,"s":0.1},{"t":1998,"v":0.06}],
"one":[{"k":1}]
},
"vconcat":[
{"width":963,"height":113,"layer":[
{"data":{"name":"A"},"mark":{"type":"bar","orient":"vertical","width":4.82,"fill":"#bdbdbd","stroke":"#555555","strokeWidth":1},"encoding":{"x":{"field":"t","type":"quantitative","scale":{"domain":[0,2000],"nice":false},"axis":{"title":null,"values":[0,200,400,600,800,1000,1200,1400,1600,1800,2000],"format":"d"}},"y":{"field":"v","type":"quantitative","stack":null,"scale":{"domain":[0,0.71],"nice":false},"axis":{"title":null,"values":[0,0.2,0.4],"format":"~g"}}}},
{"data":{"name":"A"},"mark":{"type":"line","color":"#000000","strokeWidth":2},"encoding":{"x":{"field":"t","type":"quantitative"},"y":{"field":"s","type":"quantitative"}}},
{"data":{"name":"one"},"mark":{"type":"rule","color":"#333333","strokeWidth":1},"encoding":{"x":{"datum":0},"y":{"datum":0},"y2":{"datum":0.71}}},
{"data":{"name":"one"},"mark":{"type":"text","align":"left","baseline":"alphabetic","font":"Liberation Sans","fontSize":27,"fontWeight":"bold","fill":"#000000"},"encoding":{"x":{"datum":83},"y":{"datum":0.63},"text":{"value":"A. KC1"}}}
]},
{"width":963,"height":113,"layer":[
{"data":{"name":"B"},"mark":{"type":"bar","orient":"vertical","width":4.82,"fill":"#bdbdbd","stroke":"#555555","strokeWidth":1},"encoding":{"x":{"field":"t","type":"quantitative","scale":{"domain":[0,2000],"nice":false},"axis":{"title":null,"values":[0,200,400,600,800,1000,1200,1400,1600,1800,2000],"format":"d"}},"y":{"field":"v","type":"quantitative","stack":null,"scale":{"domain":[0,0.71],"nice":false},"axis":{"title":null,"values":[0,0.2,0.4],"format":"~g"}}}},
{"data":{"name":"B"},"mark":{"type":"line","color":"#000000","strokeWidth":2},"encoding":{"x":{"field":"t","type":"quantitative"},"y":{"field":"s","type":"quantitative"}}},
{"data":{"name":"one"},"mark":{"type":"rule","color":"#333333","strokeWidth":1},"encoding":{"x":{"datum":0},"y":{"datum":0},"y2":{"datum":0.64}}},
{"data":{"name":"one"},"mark":{"type":"text","align":"left","baseline":"alphabetic","font":"Liberation Sans","fontSize":27,"fontWeight":"bold","fill":"#000000"},"encoding":{"x":{"datum":83},"y":{"datum":0.48},"text":{"value":"B. KC2"}}}
]},
{"width":963,"height":113,"layer":[
{"data":{"name":"C"},"mark":{"type":"bar","orient":"vertical","width":4.82,"fill":"#bdbdbd","stroke":"#555555","strokeWidth":1},"encoding":{"x":{"field":"t","type":"quantitative","scale":{"domain":[0,2000],"nice":false},"axis":{"title":null,"values":[0,200,400,600,800,1000,1200,1400,1600,1800,2000],"format":"d"}},"y":{"field":"v","type":"quantitative","stack":null,"scale":{"domain":[0,0.71],"nice":false},"axis":{"title":["Otolith Deposition Rate","(No.*100cm⁻2 yr⁻1)"],"titleFont":"Liberation Sans","titleFontSize":26,"titleLineHeight":31,"titlePadding":30,"titleY":65,"values":[0,0.2,0.4],"format":"~g"}}}},
{"data":{"name":"C"},"mark":{"type":"line","color":"#000000","strokeWidth":2},"encoding":{"x":{"field":"t","type":"quantitative"},"y":{"field":"s","type":"quantitative"}}},
{"data":{"name":"one"},"mark":{"type":"rule","color":"#333333","strokeWidth":1},"encoding":{"x":{"datum":0},"y":{"datum":0},"y2":{"datum":0.7}}},
{"data":{"name":"one"},"mark":{"type":"text","align":"left","baseline":"alphabetic","font":"Liberation Sans","fontSize":27,"fontWeight":"bold","fill":"#000000"},"encoding":{"x":{"datum":83},"y":{"datum":0.56},"text":{"value":"C. KC4"}}}
]},
{"width":963,"height":113,"layer":[
{"data":{"name":"D"},"mark":{"type":"bar","orient":"vertical","width":4.82,"fill":"#bdbdbd","stroke":"#555555","strokeWidth":1},"encoding":{"x":{"field":"t","type":"quantitative","scale":{"domain":[0,2000],"nice":false},"axis":{"title":null,"values":[0,200,400,600,800,1000,1200,1400,1600,1800,2000],"format":"d"}},"y":{"field":"v","type":"quantitative","stack":null,"scale":{"domain":[0,0.71],"nice":false},"axis":{"title":null,"values":[0,0.2,0.4],"format":"~g"}}}},
{"data":{"name":"D"},"mark":{"type":"line","color":"#000000","strokeWidth":2},"encoding":{"x":{"field":"t","type":"quantitative"},"y":{"field":"s","type":"quantitative"}}},
{"data":{"name":"one"},"mark":{"type":"rule","color":"#333333","strokeWidth":1},"encoding":{"x":{"datum":0},"y":{"datum":0},"y2":{"datum":0.65}}},
{"data":{"name":"one"},"mark":{"type":"text","align":"left","baseline":"alphabetic","font":"Liberation Sans","fontSize":27,"fontWeight":"bold","fill":"#000000"},"encoding":{"x":{"datum":83},"y":{"datum":0.47},"text":{"value":"D. BC1"}}}
]},
{"width":963,"height":113,"layer":[
{"data":{"name":"E"},"mark":{"type":"bar","orient":"vertical","width":4.82,"fill":"#bdbdbd","stroke":"#555555","strokeWidth":1},"encoding":{"x":{"field":"t","type":"quantitative","scale":{"domain":[0,2000],"nice":false},"axis":{"title":"Calendar Year (AD)","titleFontSize":28,"titlePadding":6,"values":[0,200,400,600,800,1000,1200,1400,1600,1800,2000],"format":"d"}},"y":{"field":"v","type":"quantitative","stack":null,"scale":{"domain":[0,0.71],"nice":false},"axis":{"title":null,"values":[0,0.2,0.4],"format":"~g"}}}},
{"data":{"name":"E"},"mark":{"type":"line","color":"#000000","strokeWidth":2},"encoding":{"x":{"field":"t","type":"quantitative"},"y":{"field":"s","type":"quantitative"}}},
{"data":{"name":"one"},"mark":{"type":"rule","color":"#333333","strokeWidth":1},"encoding":{"x":{"datum":0},"y":{"datum":0},"y2":{"datum":0.63}}},
{"data":{"name":"one"},"mark":{"type":"text","align":"left","baseline":"alphabetic","font":"Liberation Sans","fontSize":27,"fontWeight":"bold","fill":"#000000"},"encoding":{"x":{"datum":83},"y":{"datum":0.48},"text":{"value":"E. Composite"}}}
]}
]
}
